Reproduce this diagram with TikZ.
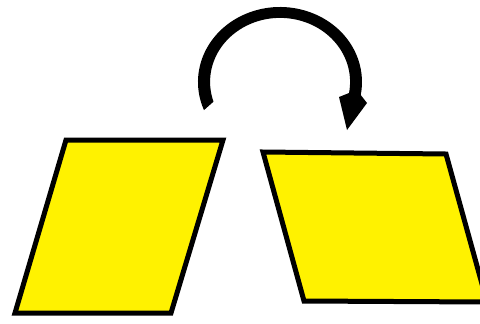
\documentclass[tikz,border=0pt]{standalone}
\usepackage{tikz}
\usetikzlibrary{calc}
\tikzset{
  placa/.style={fill=yellow,draw=black,line width=2.5pt},
  giro/.style={fill=black}
}
\begin{document}
\begin{tikzpicture}[x=0.5pt,y=0.5pt]
\clip (0,0) rectangle (480,323);
\fill[white] (0,0) rectangle (480,323);
% the two plates
\draw[placa] (66,183) -- (223,183) -- (171,10) -- (15,10) -- cycle;
\draw[placa] (263,171) -- (446,169) -- (487,21) -- (304,22) -- cycle;
% turning arrow
\coordinate (centro) at (280,241);
\fill[giro] (centro) ++(202:82 and 75) arc[start angle=202,end angle=-10,x radius=82,y radius=75]
  -- (367,220) -- (347,193) -- (339,226) -- (349,230)
  arc[start angle=-10,end angle=198,x radius=70,y radius=64] -- cycle;
\end{tikzpicture}
\end{document}
